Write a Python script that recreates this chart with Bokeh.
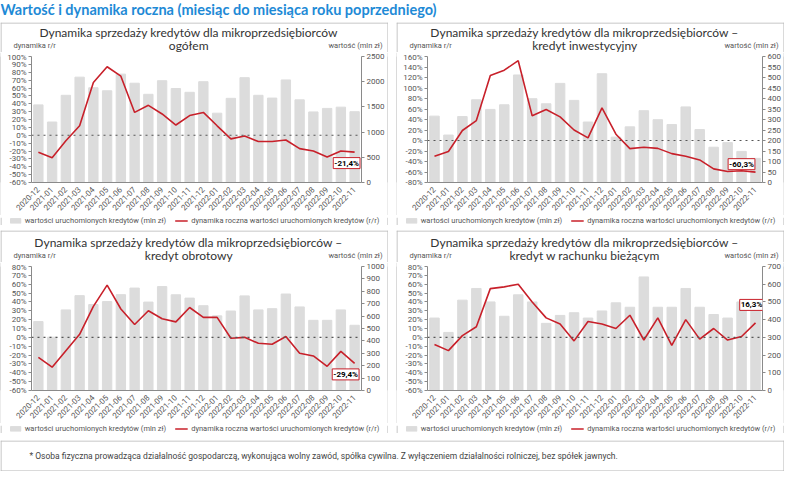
from math import pi
from bokeh.plotting import figure
from bokeh.models import (Range1d, FactorRange, LinearAxis, FixedTicker, PrintfTickFormatter,
                          Span, Label, Legend, LegendItem, Spacer)
from bokeh.layouts import column, row
from bokeh.embed import file_html
from bokeh.resources import INLINE

months = ["2020-12", "2021-01", "2021-02", "2021-03", "2021-04", "2021-05", "2021-06",
          "2021-07", "2021-08", "2021-09", "2021-10", "2021-11", "2021-12", "2022-01",
          "2022-02", "2022-03", "2022-04", "2022-05", "2022-06", "2022-07", "2022-08",
          "2022-09", "2022-10", "2022-11"]

main_title = "Wartość i dynamika roczna (miesiąc do miesiąca roku poprzedniego)"
footnote = ("* Osoba fizyczna prowadząca działalność gospodarczą, wykonująca wolny zawód, "
            "spółka cywilna. Z wyłączeniem działalności rolniczej, bez spółek jawnych.")
bar_legend = "wartości uruchomionych kredytów (mln zł)"
line_legend = "dynamika roczna wartości uruchomionych kredytów (r/r)"
left_unit = "dynamika r/r"
right_unit = "wartość (mln zł)"

# panel 1: ogółem
t1 = ["Dynamika sprzedaży kredytów dla mikroprzedsiębiorców", "ogółem"]
val1 = [1540, 1200, 1730, 2090, 1880, 1820, 2150, 1970, 1750, 2020, 1865, 1790,
        2000, 1375, 1670, 2080, 1730, 1675, 2035, 1640, 1400, 1470, 1495, 1405]
dyn1 = [-21.5, -28.5, -7, 12, 67, 87, 75, 29, 38, 27, 13, 25,
        29, 12, -4.6, -1, -8, -8, -6, -17, -20, -27.7, -20, -21.4]
pct1 = list(range(-60, 101, 10))
vals1 = list(range(0, 2501, 500))

# panel 2: kredyt inwestycyjny
t2 = ["Dynamika sprzedaży kredytów dla mikroprzedsiębiorców –", "kredyt inwestycyjny"]
val2 = [316, 226, 314, 394, 348, 370, 512, 399, 375, 472, 391, 288,
        518, 216, 265, 342, 299, 276, 360, 252, 168, 190, 148, 115]
dyn2 = [-30, -21, 19, 38, 124, 134, 152, 47, 59, 45, 20, 5,
        62, 12, -15.5, -13, -15, -25, -30, -37, -54, -59, -57.5, -60.3]
pct2 = list(range(-80, 161, 20))
vals2 = list(range(0, 601, 50))

# panel 3: kredyt obrotowy
t3 = ["Dynamika sprzedaży kredytów dla mikroprzedsiębiorców –", "kredyt obrotowy"]
val3 = [556, 430, 650, 765, 693, 717, 773, 826, 713, 838, 772, 745,
        684, 602, 641, 763, 650, 660, 778, 674, 566, 566, 650, 526]
dyn3 = [-22.6, -33.7, -15, 3.4, 35, 59, 32, 14.5, 30, 21, 17.5, 33.7,
        22.6, 22.6, -1, 0, -6.7, -7.8, 1, -17.9, -21, -32.7, -15.8, -29.4]
pct3 = list(range(-60, 81, 10))
vals3 = list(range(0, 1001, 100))

# panel 4: kredyt w rachunku bieżącym
t4 = ["Dynamika sprzedaży kredytów dla mikroprzedsiębiorców –", "kredyt w rachunku bieżącym"]
val4 = [409, 328, 510, 576, 500, 419, 540, 500, 379, 424, 439, 409,
        449, 495, 470, 641, 470, 470, 576, 470, 429, 409, 500, 470]
dyn4 = [-8, -15, 2, 12, 55, 57, 60, 40, 22, 15, -4, 18,
        15, 10, 25, -3, 22, -9, 20, -2, 10, -3, 1, 16.3]
pct4 = list(range(-60, 81, 10))
vals4 = list(range(0, 701, 100))

BAR_C = "#dcdcdc"
LINE_C = "#c8202a"
AX_C = "#8a8a8a"
BORDER_C = "#b5b5b5"
TICK_FONT = "Roboto"
TITLE_FONT = "Lato"


def style_axis(ax):
    ax.axis_line_color = AX_C
    ax.major_tick_line_color = AX_C
    ax.minor_tick_line_color = None
    ax.major_tick_out = 3
    ax.major_tick_in = 0
    ax.major_label_text_font = TICK_FONT
    ax.major_label_text_font_size = "8px"
    ax.major_label_text_color = "#555555"
    ax.major_label_standoff = 2


def blank(w, h, fill="white"):
    f = figure(width=w, height=h, x_range=Range1d(0, w), y_range=Range1d(0, h),
               output_backend="svg", toolbar_location=None,
               x_axis_location=None, y_axis_location=None, min_border=0)
    f.outline_line_color = None
    f.grid.visible = False
    f.background_fill_color = fill
    f.border_fill_color = fill
    return f


def edges(f, w, h, sides):
    spec = {"left": (0.5, "height"), "right": (w - 0.5, "height"),
            "top": (h - 0.5, "width"), "bottom": (0.5, "width")}
    for s in sides:
        loc, dim = spec[s]
        f.add_layout(Span(location=loc, dimension=dim, line_color=BORDER_C, line_width=1))


def header(title, w, h, ty):
    f = blank(w, h)
    edges(f, w, h, ["left", "right", "top"])
    cx = w * 0.485
    for i, line in enumerate(title):
        f.add_layout(Label(x=cx, y=h - ty[i], x_units="screen", y_units="screen",
                           text=line, text_align="center", text_baseline="middle",
                           text_font=TITLE_FONT, text_font_size="12px",
                           text_color="#333333"))
    f.add_layout(Label(x=13, y=h - ty[1], x_units="screen", y_units="screen",
                       text=left_unit, text_align="left", text_baseline="middle",
                       text_font=TICK_FONT, text_font_size="7.5px", text_color="#555555"))
    f.add_layout(Label(x=w - 6, y=h - ty[1], x_units="screen", y_units="screen",
                       text=right_unit, text_align="right", text_baseline="middle",
                       text_font=TICK_FONT, text_font_size="7.5px", text_color="#555555"))
    return f


def legend_strip(w, h):
    f = blank(w, h)
    edges(f, w, h, ["left", "right"])
    # zero-size proxy renderers, used only to draw the legend swatches
    br = f.vbar(x=[0], top=[0], width=0, color=BAR_C)
    lr = f.line(x=[0], y=[0], line_color=LINE_C, line_width=1.6)
    leg = Legend(items=[LegendItem(label=bar_legend, renderers=[br]),
                        LegendItem(label=line_legend, renderers=[lr])],
                 location="center", orientation="horizontal",
                 padding=0, margin=0, spacing=9, glyph_width=13, glyph_height=6,
                 label_standoff=3, label_height=8, label_text_font=TICK_FONT,
                 label_text_font_size="7.5px", label_text_color="#555555",
                 border_line_color=None, background_fill_alpha=0)
    f.add_layout(leg)
    return f


def chart(vals, dyn, pticks, vticks, lab_off, w, h, top, bottom):
    p = figure(width=w, height=h, x_range=FactorRange(*months),
               y_range=Range1d(pticks[0], pticks[-1]),
               output_backend="svg", toolbar_location=None,
               min_border_left=30, min_border_right=4,
               min_border_top=top, min_border_bottom=bottom)
    p.extra_y_ranges = {"val": Range1d(vticks[0], vticks[-1])}
    p.xgrid.visible = False
    p.ygrid.visible = False
    p.outline_line_color = None

    style_axis(p.yaxis[0])
    p.yaxis[0].ticker = FixedTicker(ticks=pticks)
    p.yaxis[0].formatter = PrintfTickFormatter(format="%d%%")

    rax = LinearAxis(y_range_name="val", ticker=FixedTicker(ticks=vticks))
    style_axis(rax)
    p.add_layout(rax, "right")

    xa = p.xaxis[0]
    style_axis(xa)
    xa.major_tick_line_color = None
    xa.major_label_orientation = pi / 4
    xa.major_label_standoff = 3

    p.vbar(x=months, top=vals, width=0.68, color=BAR_C, y_range_name="val")
    p.line(x=months, y=dyn, line_color=LINE_C, line_width=1.6)
    p.add_layout(Span(location=0, dimension="width", line_color="#555555",
                      line_dash="dotted", line_width=1.2))

    last = dyn[-1]
    txt = ("%.1f%%" % last).replace(".", ",")
    p.add_layout(Label(x=len(months) - 0.5, y=last, text=txt,
                       x_offset=lab_off[0], y_offset=lab_off[1],
                       text_align="center", text_baseline="middle",
                       text_font=TICK_FONT, text_font_size="8px", text_font_style="bold",
                       text_color="black", background_fill_color="white",
                       border_line_color=LINE_C, border_line_width=1, padding=1))
    return p


PW = 388          # panel width including border
CW = PW - 2       # chart width
GAP = 8


def vline(h):
    return blank(1, h, BORDER_C)


def hline():
    return blank(PW, 1, BORDER_C)


def chart_row(ca, cb, h):
    return row(vline(h), ca, vline(h), Spacer(width=GAP), vline(h), cb, vline(h), spacing=0)


def pair(a, b):
    return row(a, Spacer(width=GAP), b, spacing=0)


HH1, HH2 = 30, 32
CH1, CH2, LG = 163, 161, 10
h1 = header(t1, PW, HH1, (10, 22.5))
h2 = header(t2, PW, HH1, (10, 22.5))
c1 = chart(val1, dyn1, pct1, vals1, (-8, -11), CW, CH1, 4, 26)
c2 = chart(val2, dyn2, pct2, vals2, (-14, 8), CW, CH1, 4, 26)
h3 = header(t3, PW, HH2, (12, 24.5))
h4 = header(t4, PW, HH2, (12, 24.5))
c3 = chart(val3, dyn3, pct3, vals3, (-9, -11), CW, CH2, 4, 26)
c4 = chart(val4, dyn4, pct4, vals4, (-4, 18), CW, CH2, 4, 26)

ht = blank(784, 18)
ht.add_layout(Label(x=0, y=9, x_units="screen", y_units="screen", text=main_title,
                    text_align="left", text_baseline="middle", text_font=TITLE_FONT,
                    text_font_style="bold", text_font_size="14.5px", text_color="#1e8ad6"))

ft = blank(784, 31)
edges(ft, 784, 31, ["left", "right", "top", "bottom"])
ft.add_layout(Label(x=29, y=15.5, x_units="screen", y_units="screen", text=footnote,
                    text_align="left", text_baseline="middle", text_font=TICK_FONT,
                    text_font_size="8.5px", text_color="#444444"))

layout = column(ht, Spacer(height=4),
                pair(h1, h2), chart_row(c1, c2, CH1),
                pair(legend_strip(PW, LG), legend_strip(PW, LG)),
                pair(hline(), hline()),
                Spacer(height=4),
                pair(h3, h4), chart_row(c3, c4, CH2),
                pair(legend_strip(PW, LG), legend_strip(PW, LG)),
                pair(hline(), hline()),
                Spacer(height=6), ft, spacing=0)
open("out.html", "w").write(file_html(layout, INLINE))
